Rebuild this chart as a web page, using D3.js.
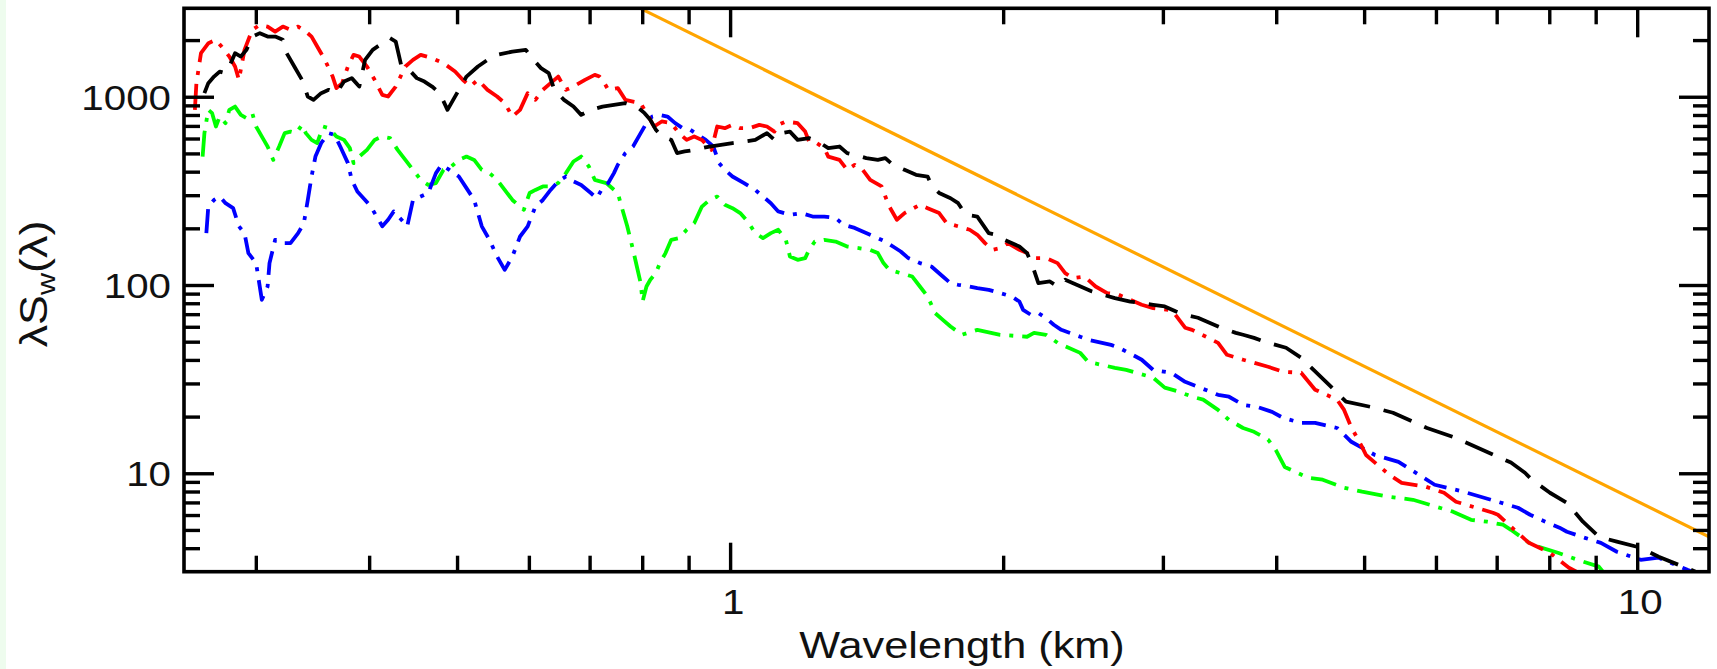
<!DOCTYPE html>
<html><head><meta charset="utf-8">
<script src="https://cdn.jsdelivr.net/npm/d3@7"></script>
<style>
html,body{margin:0;padding:0;background:#fff;}
svg{display:block;}
</style></head>
<body>
<svg id="chart" width="1717" height="669"></svg>
<script>
// ---------- data ----------
const xDomain = [0.25, 12];
const yDomain = [3.0, 2950];
const xMajorTicks = [1, 10];
const xMinorTicks = [0.3,0.4,0.5,0.6,0.7,0.8,0.9,2,3,4,5,6,7,8,9];
const yMajorTicks = [10, 100, 1000];
const yMinorTicks = [4,5,6,7,8,9,20,30,40,50,60,70,80,90,200,300,400,500,600,700,800,900,2000];
const xTitle = "Wavelength (km)";

const seriesRed = [[0.257,852],[0.258,1181],[0.261,1704],[0.266,1926],[0.271,2005],[0.275,1848],[0.2805,1635],[0.2846,1447],[0.2874,1230],[0.2915,1775],[0.2973,2266],[0.3031,2409],[0.3091,2359],[0.3151,2219],[0.3213,2359],[0.3276,2266],[0.334,2359],[0.3406,2219],[0.3456,2087],[0.3506,1848],[0.3575,1570],[0.3646,1280],[0.3681,1111],[0.3735,1181],[0.379,1447],[0.3845,1669],[0.3901,1635],[0.3978,1447],[0.4056,1230],[0.4136,1024],[0.4197,1003],[0.4279,1133],[0.4385,1447],[0.4471,1570],[0.4559,1669],[0.4693,1603],[0.4831,1508],[0.4975,1361],[0.5073,1230],[0.5171,1133],[0.5272,1230],[0.5402,1088],[0.5535,1003],[0.5643,925],[0.5754,785],[0.5867,852],[0.5982,1045],[0.61,963],[0.6217,1088],[0.634,1181],[0.6464,1280],[0.6592,1088],[0.6719,1133],[0.6918,1230],[0.7092,1307],[0.7178,1280],[0.7233,1230],[0.7339,1088],[0.752,1111],[0.7665,963],[0.7816,943],[0.7969,925],[0.8126,785],[0.8245,695],[0.8407,739],[0.8612,724],[0.8782,641],[0.8956,590],[0.9129,615],[0.9309,590],[0.9537,522],[0.9678,695],[0.9867,681],[1.006,709],[1.026,681],[1.051,681],[1.077,709],[1.098,695],[1.119,653],[1.13,709],[1.152,739],[1.187,724],[1.21,653],[1.222,578],[1.246,567],[1.27,533],[1.283,481],[1.32,462],[1.346,409],[1.372,435],[1.4,409],[1.427,362],[1.469,334],[1.483,295],[1.498,261],[1.527,222],[1.557,241],[1.619,267],[1.651,256],[1.7,241],[1.733,213],[1.784,205],[1.837,196.5],[1.873,184.8],[1.91,166.9],[1.947,153.8],[1.985,157],[2.024,166.9],[2.084,153.8],[2.125,147.7],[2.166,139],[2.23,139],[2.296,130.7],[2.341,115.7],[2.387,108.8],[2.458,110.9],[2.529,98.2],[2.604,90.6],[2.682,88.7],[2.762,83.5],[2.843,78.5],[2.927,75.4],[3.042,73.8],[3.086,71],[3.174,59.3],[3.231,57.8],[3.451,49.3],[3.53,42.6],[3.677,40.1],[3.781,38.6],[3.918,36.8],[4.07,34.6],[4.261,34.2],[4.415,27.8],[4.668,24.6],[4.752,21.7],[4.836,17.7],[4.974,13.8],[5.024,12.5],[5.33,9.82],[5.5,8.9],[5.85,8.48],[6.124,7.88],[6.313,7.06],[6.934,6.17],[7.022,6.02],[7.258,5.2],[7.597,4.27],[8.013,3.78],[8.409,3.15],[8.57,3.0]];

const seriesBlack = [[0.2633,1045],[0.2659,1181],[0.2698,1280],[0.2737,1361],[0.2778,1335],[0.2805,1447],[0.2846,1704],[0.2888,1635],[0.293,1775],[0.2973,2087],[0.3031,2177],[0.3091,2087],[0.3151,2087],[0.3213,2005],[0.3244,1704],[0.3308,1447],[0.3373,1230],[0.3423,1003],[0.3473,963],[0.3541,1045],[0.361,1088],[0.3681,1045],[0.3753,1204],[0.3827,1256],[0.3901,1133],[0.3959,1570],[0.4036,1775],[0.4136,1926],[0.4218,2047],[0.4279,1965],[0.4342,1447],[0.4428,1390],[0.4514,1256],[0.4603,1204],[0.4693,1133],[0.4785,1045],[0.488,852],[0.4951,963],[0.5121,1280],[0.5272,1447],[0.5402,1570],[0.5535,1669],[0.5754,1738],[0.5953,1775],[0.6071,1570],[0.6187,1419],[0.631,1335],[0.6402,1088],[0.656,963],[0.6719,887],[0.6852,801],[0.7022,852],[0.7233,887],[0.7446,906],[0.7665,925],[0.7892,887],[0.8048,818],[0.8166,754],[0.8283,667],[0.8407,615],[0.8612,590],[0.874,502],[0.891,512],[0.9129,522],[0.9491,544],[0.9772,555],[1.006,567],[1.036,578],[1.066,590],[1.098,641],[1.119,590],[1.141,641],[1.164,653],[1.187,590],[1.222,603],[1.258,567],[1.283,533],[1.32,544],[1.346,502],[1.372,491],[1.413,472],[1.455,462],[1.483,472],[1.512,435],[1.557,409],[1.603,385],[1.651,377],[1.667,340],[1.7,308],[1.75,289],[1.784,272],[1.819,236],[1.873,231],[1.928,188.6],[1.966,184.8],[2.005,173.8],[2.084,160.1],[2.125,147.7],[2.156,125.4],[2.187,102.3],[2.252,104.4],[2.296,98.2],[2.341,106.6],[2.41,100.3],[2.506,92.4],[2.579,88.7],[2.656,85.2],[2.762,81.7],[2.843,80.2],[2.927,78.5],[3.014,76.9],[3.102,72.3],[3.174,69.5],[3.279,67],[3.416,61.5],[3.477,59.3],[3.61,55.7],[3.677,54.4],[3.781,52.4],[3.918,49.3],[4.101,46.4],[4.261,41.1],[4.539,30.6],[4.775,24],[5.088,22.5],[5.38,20.96],[5.865,17.4],[6.313,15.4],[7.258,11.4],[7.521,10.06],[7.656,9.24],[8.013,7.88],[8.366,6.97],[8.713,5.53],[9.073,4.6],[9.497,4.33],[10.09,4.02],[10.56,3.6],[11.31,3.15],[11.6,3.0]];

const seriesBlue = [[0.2646,188.6],[0.2659,261],[0.2698,283],[0.2737,295],[0.2778,272],[0.2832,256],[0.2874,205],[0.2915,188.6],[0.2944,147.7],[0.3002,130.7],[0.3046,83.5],[0.3091,98.2],[0.3106,130.7],[0.3151,173.8],[0.3213,166.9],[0.3276,166.9],[0.334,188.6],[0.3389,213],[0.3423,283],[0.3456,377],[0.349,481],[0.3541,567],[0.361,641],[0.3664,628],[0.3717,544],[0.379,444],[0.3827,362],[0.3882,314],[0.3959,283],[0.4017,261],[0.4077,231],[0.4136,205],[0.4197,222],[0.4258,246],[0.4342,222],[0.4406,205],[0.4471,283],[0.4559,295],[0.4647,308],[0.4739,393],[0.4808,435],[0.4903,409],[0.5023,377],[0.5121,327],[0.5222,283],[0.5324,205],[0.5429,173.8],[0.5535,141.7],[0.5643,120.4],[0.5754,141.7],[0.5867,181],[0.5982,205],[0.61,261],[0.6217,283],[0.634,320],[0.6464,355],[0.6592,377],[0.6719,355],[0.6852,340],[0.7022,308],[0.7126,289],[0.7233,327],[0.7339,348],[0.7446,393],[0.752,435],[0.7665,502],[0.7816,544],[0.7969,641],[0.8087,724],[0.8205,785],[0.8366,801],[0.853,785],[0.8698,724],[0.8867,681],[0.9043,667],[0.9218,628],[0.94,590],[0.9583,544],[0.9725,444],[0.9867,409],[1.006,377],[1.036,348],[1.066,320],[1.087,295],[1.109,272],[1.13,246],[1.164,236],[1.198,241],[1.233,231],[1.27,231],[1.307,227],[1.333,209],[1.372,201],[1.4,192.3],[1.441,181],[1.483,170.2],[1.512,160.1],[1.542,150.6],[1.572,139],[1.619,130.7],[1.667,125.4],[1.716,110.9],[1.75,102.3],[1.784,100.3],[1.837,98.2],[1.873,96.3],[1.928,94.3],[1.985,90.6],[2.044,86.9],[2.084,81.7],[2.104,73.8],[2.145,69.5],[2.187,70.9],[2.23,66.7],[2.274,61.5],[2.318,57.8],[2.432,53.1],[2.481,51.2],[2.63,48.1],[2.685,46.4],[2.843,40.1],[2.927,35.4],[3.064,34.2],[3.174,30.6],[3.451,26.1],[3.548,25.5],[3.677,23.1],[3.814,22.5],[3.958,21.2],[4.07,19.7],[4.261,18.5],[4.415,18.5],[4.668,17.4],[4.84,14.7],[5.14,12.5],[5.456,11.5],[5.981,8.69],[6.436,7.98],[7.389,6.56],[7.62,6.02],[7.833,5.66],[8.21,5.14],[8.366,4.89],[8.757,4.54],[9.12,4.27],[9.497,3.83],[10.09,3.47],[10.56,3.56],[11.36,3.07],[11.5,3.0]];

const seriesGreen = [[0.2621,481],[0.2633,641],[0.2659,852],[0.2685,818],[0.2711,695],[0.2737,785],[0.2778,724],[0.2805,852],[0.2846,887],[0.2888,801],[0.293,770],[0.2973,818],[0.3002,695],[0.3061,590],[0.3091,544],[0.3136,462],[0.3183,544],[0.3228,641],[0.3276,653],[0.3324,641],[0.3373,709],[0.3406,641],[0.3456,590],[0.3506,567],[0.3558,695],[0.361,681],[0.3681,615],[0.3753,590],[0.3809,533],[0.3845,444],[0.3901,481],[0.3978,522],[0.4056,590],[0.4136,615],[0.4218,603],[0.43,522],[0.4385,462],[0.4471,409],[0.4559,362],[0.4647,340],[0.4739,348],[0.4831,409],[0.4927,426],[0.5023,462],[0.5121,481],[0.5222,462],[0.5324,409],[0.5429,393],[0.5535,362],[0.5643,320],[0.5754,283],[0.5867,261],[0.5924,251],[0.6011,308],[0.61,320],[0.6217,334],[0.634,334],[0.6464,348],[0.6592,393],[0.6719,453],[0.6852,481],[0.6987,426],[0.7092,362],[0.7303,348],[0.752,308],[0.7591,261],[0.7702,205],[0.7816,153.8],[0.7892,125.4],[0.7969,102.3],[0.8008,81.7],[0.8087,98.2],[0.8166,106.6],[0.8283,115.7],[0.8366,130.7],[0.8488,147.7],[0.8612,173.8],[0.8782,177.5],[0.8956,196.5],[0.9129,213],[0.9309,261],[0.9491,283],[0.9678,295],[0.9867,267],[1.006,256],[1.026,241],[1.046,217],[1.066,188.6],[1.087,177.5],[1.109,188.6],[1.13,196.5],[1.152,173.8],[1.164,141.7],[1.187,136.1],[1.21,139],[1.222,153.8],[1.24,170.2],[1.27,173.8],[1.307,170.2],[1.346,160.1],[1.386,157],[1.427,153.8],[1.455,147.7],[1.476,130.7],[1.498,120.4],[1.542,115.7],[1.588,110.9],[1.619,98.2],[1.651,86.9],[1.683,70.9],[1.716,65.3],[1.75,60.2],[1.801,54.4],[1.873,57.8],[1.985,54.4],[2.125,53.1],[2.163,55.7],[2.23,54.4],[2.296,49.3],[2.432,43.6],[2.481,39.1],[2.656,36.3],[2.733,35.4],[2.927,32.2],[3.014,28.5],[3.126,27.1],[3.231,25.5],[3.323,24.6],[3.451,21.7],[3.548,19.2],[3.677,17.4],[3.781,16.6],[3.918,15.1],[3.995,13.3],[4.087,10.8],[4.337,9.46],[4.501,9.24],[4.752,8.38],[4.974,7.98],[5.33,7.5],[5.66,7.23],[6.265,6.25],[6.559,5.66],[6.831,5.53],[7.112,5.33],[7.258,5.01],[7.656,4.17],[8.177,3.78],[8.596,3.47],[9.073,3.19],[9.167,3.0]];

const referenceLine = [[0.79, 3000], [12, 4.6]];

// ---------- drawing ----------
const W = 1717, H = 669;
const box = {left: 184, right: 1709, top: 8.3, bottom: 571.7};
const fontFam = '"Liberation Sans", Arial, Helvetica, sans-serif';
const svg = d3.select("#chart");

const x = d3.scaleLog().domain(xDomain).range([box.left, box.right]);
const y = d3.scaleLog().domain(yDomain).range([box.bottom, box.top]);

svg.append("rect").attr("width", W).attr("height", H).attr("fill", "#fff");
svg.append("rect").attr("x", 0).attr("y", 0).attr("width", 6).attr("height", H).attr("fill", "#eefcee");

svg.append("defs").append("clipPath").attr("id", "plotclip")
  .append("rect").attr("x", box.left).attr("y", box.top)
  .attr("width", box.right - box.left).attr("height", box.bottom - box.top);

const line = d3.line().x(d => x(d[0])).y(d => y(d[1]));
const plot = svg.append("g").attr("clip-path", "url(#plotclip)");

const seriesStyles = [
  {data: seriesGreen, color: "#00ff00", dash: "26,9,4,9"},
  {data: seriesBlue,  color: "#0000ff", dash: "24,9,4,9"},
  {data: seriesRed,   color: "#ff0000", dash: "26,9,4,9"},
  {data: seriesBlack, color: "#000000", dash: "30,14"}
];
plot.selectAll("path.series").data(seriesStyles).join("path")
  .attr("class", "series")
  .attr("d", d => line(d.data))
  .attr("fill", "none")
  .attr("stroke", d => d.color)
  .attr("stroke-width", 3.8)
  .attr("stroke-dasharray", d => d.dash)
  .attr("stroke-linejoin", "round");

plot.append("path").attr("d", line(referenceLine))
  .attr("fill", "none").attr("stroke", "#ffa500").attr("stroke-width", 3.2);

// ticks
function addTicks(axisGen, transform, values, size) {
  const g = svg.append("g").attr("transform", transform)
    .call(axisGen.tickValues(values).tickSize(size).tickFormat(""));
  g.select(".domain").remove();
  g.selectAll(".tick line").attr("stroke", "#000").attr("stroke-width", 3.4);
}
addTicks(d3.axisBottom(x), `translate(0,${box.bottom})`, xMinorTicks, -16);
addTicks(d3.axisBottom(x), `translate(0,${box.bottom})`, xMajorTicks, -29);
addTicks(d3.axisTop(x), `translate(0,${box.top})`, xMinorTicks, -16);
addTicks(d3.axisTop(x), `translate(0,${box.top})`, xMajorTicks, -29);
addTicks(d3.axisLeft(y), `translate(${box.left},0)`, yMinorTicks, -16);
addTicks(d3.axisLeft(y), `translate(${box.left},0)`, yMajorTicks, -30);
addTicks(d3.axisRight(y), `translate(${box.right},0)`, yMinorTicks, -16);
addTicks(d3.axisRight(y), `translate(${box.right},0)`, yMajorTicks, -30);

svg.append("rect").attr("x", box.left).attr("y", box.top)
  .attr("width", box.right - box.left).attr("height", box.bottom - box.top)
  .attr("fill", "none").attr("stroke", "#000").attr("stroke-width", 3.6);

// labels
const tx = 1.12;
svg.selectAll("text.xl").data(xMajorTicks).join("text").attr("class", "xl")
  .attr("transform", d => `translate(${x(d) + 3},614) scale(${tx},1)`)
  .attr("text-anchor", "middle").attr("font-family", fontFam).attr("font-size", 36)
  .attr("fill", "#111").text(d => d);

svg.selectAll("text.yl").data(yMajorTicks).join("text").attr("class", "yl")
  .attr("transform", d => `translate(171,${y(d) + 13}) scale(${tx},1)`)
  .attr("text-anchor", "end").attr("font-family", fontFam).attr("font-size", 36)
  .attr("fill", "#111").text(d => d);

svg.append("text")
  .attr("transform", `translate(962,658) scale(1.17,1)`)
  .attr("text-anchor", "middle").attr("font-family", fontFam).attr("font-size", 37)
  .attr("fill", "#111").text(xTitle);

const yt = svg.append("text")
  .attr("transform", `translate(47,284) rotate(-90) scale(1.18,1)`)
  .attr("text-anchor", "middle").attr("font-family", fontFam).attr("font-size", 38)
  .attr("fill", "#111");
yt.append("tspan").text("λS");
yt.append("tspan").attr("font-size", 26).attr("dy", 8).text("w");
yt.append("tspan").attr("dy", -8).text("(λ)");
</script>
</body></html>
